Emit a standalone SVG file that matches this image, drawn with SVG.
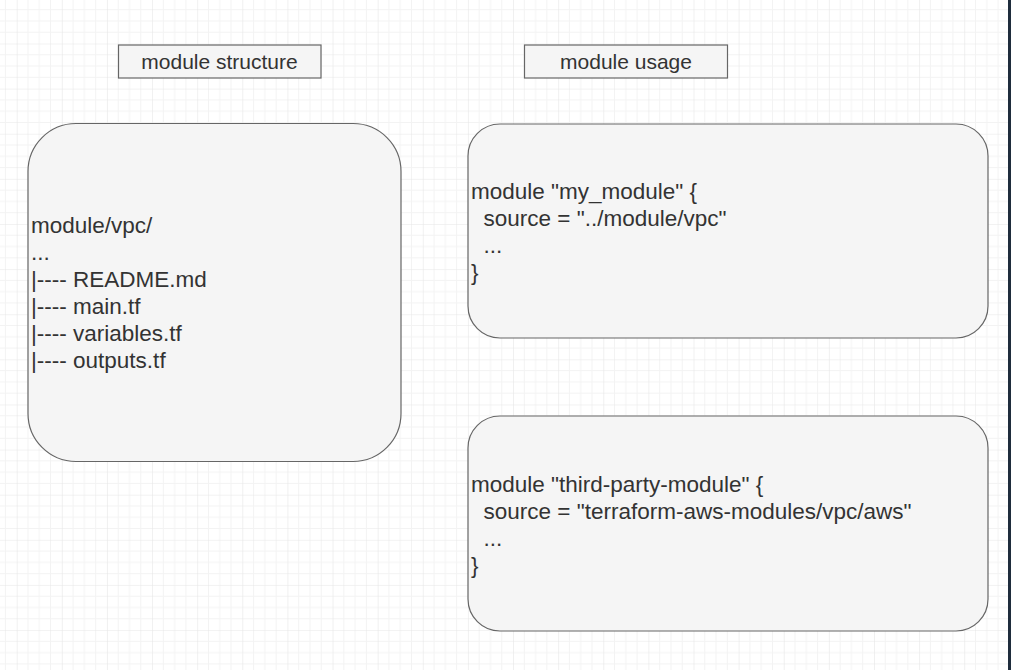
<svg xmlns="http://www.w3.org/2000/svg" width="1011" height="670" viewBox="0 0 1011 670">
<defs>
<pattern id="grid" patternUnits="userSpaceOnUse" x="16.7" y="43.5" width="45.12" height="45.12">
<path d="M11.28 0V45.12M22.56 0V45.12M33.84 0V45.12M0 11.28H45.12M0 22.56H45.12M0 33.84H45.12" stroke="#f3f3f3" stroke-width="1" fill="none"/>
<path d="M0 0V45.12M0 0H45.12" stroke="#e6e6e6" stroke-width="1.2" fill="none"/>
</pattern>
<style>
.box{fill:#f5f5f5;stroke:#666666;stroke-width:1.2}
.lbl{font-family:"Liberation Sans",Arial,sans-serif;font-size:21px;fill:#333333;text-anchor:middle}
.body{font-family:"Liberation Sans",Arial,sans-serif;font-size:22.5px;fill:#333333;white-space:pre}
</style>
</defs>
<rect width="1011" height="670" fill="#ffffff"/>
<rect width="1011" height="670" fill="url(#grid)"/>
<rect x="1008" y="0" width="3" height="670" fill="#1f2d3d"/>
<g id="label-structure">
<rect class="box" x="118.5" y="45" width="202.5" height="33"/>
<text class="lbl" x="219.5" y="69">module structure</text>
</g>
<g id="label-usage">
<rect class="box" x="524.5" y="45" width="203" height="33"/>
<text class="lbl" x="626" y="69">module usage</text>
</g>
<g id="node-structure">
<rect class="box" x="28" y="123.5" width="373" height="338" rx="48" ry="48"/>
<text class="body" xml:space="preserve"><tspan x="31" y="233.3">module/vpc/</tspan><tspan x="31" y="260.3">...</tspan><tspan x="31" y="287.3">|---- README.md</tspan><tspan x="31" y="314.3">|---- main.tf</tspan><tspan x="31" y="341.3">|---- variables.tf</tspan><tspan x="31" y="368.3">|---- outputs.tf</tspan></text>
</g>
<g id="node-my-module">
<rect class="box" x="468" y="124" width="520" height="214" rx="32" ry="32"/>
<text class="body" xml:space="preserve"><tspan x="471" y="198.5">module "my_module" {</tspan><tspan x="471" y="225.5">  source = "../module/vpc"</tspan><tspan x="471" y="252.5">  ...</tspan><tspan x="471" y="279.5">}</tspan></text>
</g>
<g id="node-third-party">
<rect class="box" x="468" y="416" width="520" height="215" rx="32" ry="32"/>
<text class="body" xml:space="preserve"><tspan x="471" y="491.5">module "third-party-module" {</tspan><tspan x="471" y="518.5">  source = "terraform-aws-modules/vpc/aws"</tspan><tspan x="471" y="545.5">  ...</tspan><tspan x="471" y="572.5">}</tspan></text>
</g>
<g id="connectors"></g>
</svg>
